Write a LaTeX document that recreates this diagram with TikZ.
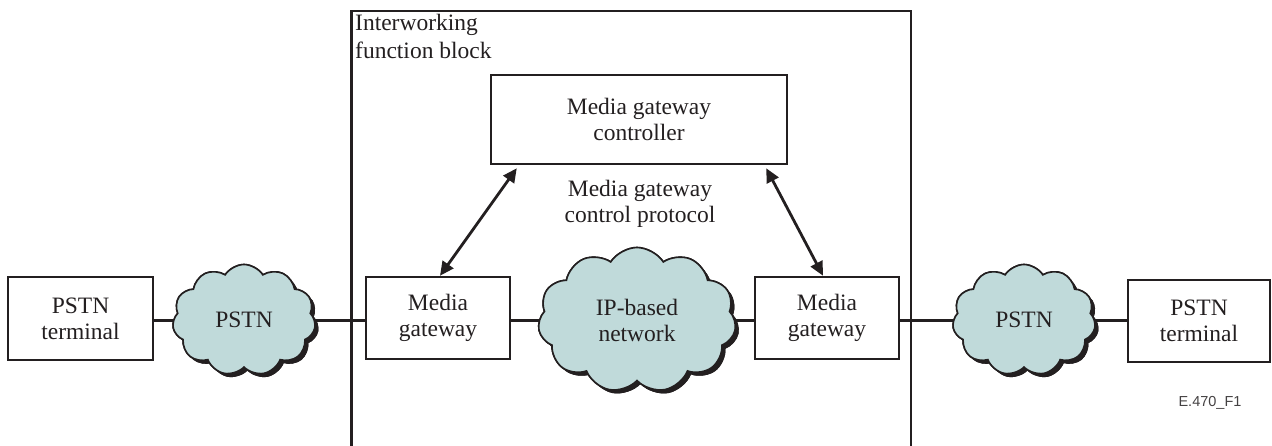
\documentclass[tikz,border=0pt]{standalone}
\usepackage{fontspec}
\setmainfont{Liberation Serif}
\newfontfamily\figsans{Liberation Sans}
\usetikzlibrary{shapes.symbols,shadows,arrows.meta}
\definecolor{cloudfill}{RGB}{192,218,218}
\definecolor{ink}{RGB}{35,31,32}
\tikzset{
  every node/.style={font=\fontsize{23.5}{26}\selectfont, text=ink},
  boxnode/.style={draw=ink, line width=2.5pt, rectangle, align=center, inner sep=0pt},
  cloudnode/.style={cloud, cloud puffs=11, cloud puff arc=115, cloud ignores aspect,
     draw=ink, line width=1.6pt, fill=cloudfill, align=center, inner sep=0pt,
     drop shadow={shadow xshift=3.5pt, shadow yshift=-3.5pt, fill=ink, opacity=1}},
  link/.style={draw=ink, line width=3pt},
  ctrlarrow/.style={draw=ink, line width=2.8pt, {Triangle[length=14pt,width=13pt]}-{Triangle[length=14pt,width=13pt]}},
  frame/.style={draw=ink, line width=2.5pt}
}
\begin{document}
\begin{tikzpicture}[x=1pt,y=-1pt]
\useasboundingbox (0,0) rectangle (1272,445);
% interworking frame
\coordinate (fbl) at (351.5,447);
\coordinate (ftl) at (351.5,11);
\coordinate (ftr) at (911,11);
\coordinate (fbr) at (911,447);
\draw[frame] (fbl) -- (ftl) -- (ftr) -- (fbr);
\node[anchor=north west, align=left, inner sep=0pt, font=\fontsize{23.5}{28}\selectfont] (iwf) at (355,14) {Interworking\\function block};

% nodes
\node[boxnode, minimum width=145pt, minimum height=83pt] (lterm) at (80.5,318.5) {PSTN\\terminal};
\node[cloudnode, minimum width=143pt, minimum height=111pt] (lcloud) at (244,320) {PSTN};
\node[boxnode, minimum width=144pt, minimum height=82pt] (lmg) at (438,318) {Media\\gateway};
\node[cloudnode, minimum width=198pt, minimum height=145pt] (ipcloud) at (637,320) {IP-based\\network};
\node[boxnode, minimum width=144pt, minimum height=82pt] (rmg) at (827,318) {Media\\gateway};
\node[cloudnode, minimum width=143pt, minimum height=111pt] (rcloud) at (1024,320) {PSTN};
\node[boxnode, minimum width=142pt, minimum height=82pt] (rterm) at (1199,321) {PSTN\\terminal};
\node[boxnode, minimum width=296pt, minimum height=89pt] (mgc) at (639,119.5) {Media gateway\\controller};
\node[align=center, inner sep=0pt] (proto) at (640,204) {Media gateway\\control protocol};
\node[font=\figsans\fontsize{14.5}{16}\selectfont, text=ink!85, inner sep=0pt] (fig) at (1210,403) {E.470\_F1};

% connectors
\coordinate (ya) at (0,320);
\draw[link] (lterm.east |- ya) -- (lcloud.east |- ya) ;
\draw[link] (lcloud.east |- ya) -- (lmg.west |- ya);
\draw[link] (lmg.east |- ya) -- (ipcloud.west |- ya);
\draw[link] (ipcloud.east |- ya) -- (rmg.west |- ya);
\draw[link] (rmg.east |- ya) -- (rcloud.west |- ya);
\draw[link] (rcloud.east |- ya) -- (rterm.west |- ya);
% redraw clouds on top of connectors
\node[cloudnode, minimum width=143pt, minimum height=111pt] at (lcloud) {PSTN};
\node[cloudnode, minimum width=198pt, minimum height=145pt] at (ipcloud) {IP-based\\network};
\node[cloudnode, minimum width=143pt, minimum height=111pt] at (rcloud) {PSTN};

% control arrows
\draw[ctrlarrow] ([xshift=27pt,yshift=-3pt]mgc.south west) -- ([xshift=2pt]lmg.north);
\draw[ctrlarrow] ([xshift=-22pt,yshift=-3pt]mgc.south east) -- ([xshift=-4pt]rmg.north);
\end{tikzpicture}
\end{document}
